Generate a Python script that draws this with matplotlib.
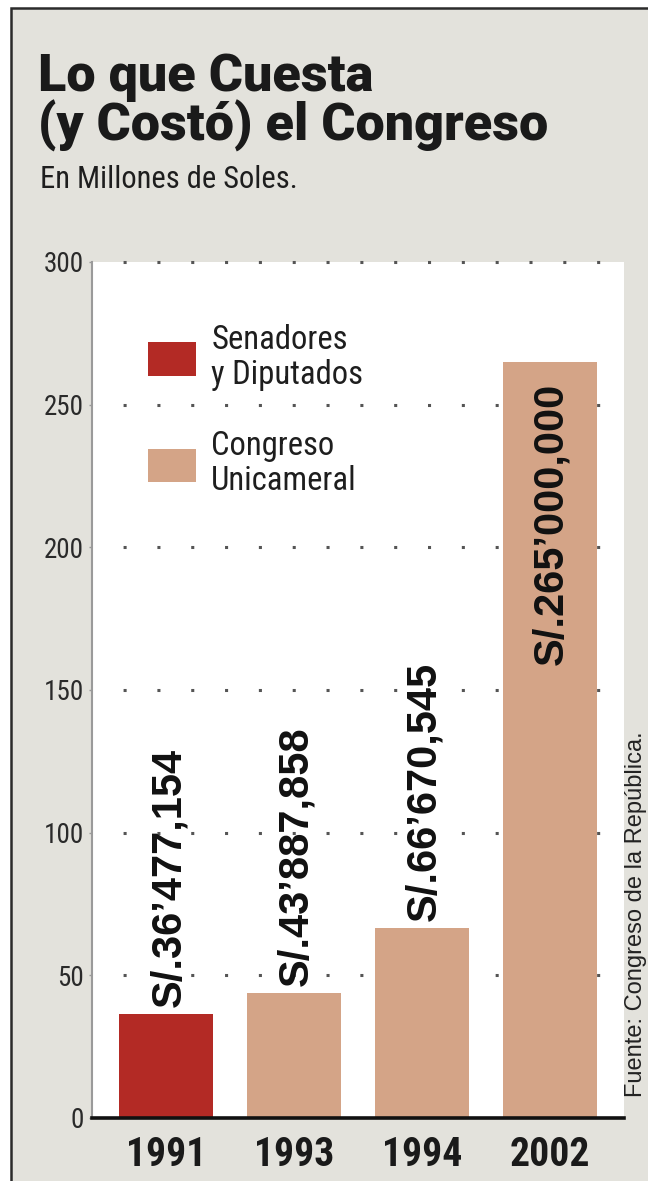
import matplotlib
matplotlib.use("Agg")
import matplotlib.pyplot as plt
from matplotlib import font_manager
from matplotlib.patches import Patch, Rectangle

# ── Data ────────────────────────────────────────────────────────────────────
years = ["1991", "1993", "1994", "2002"]
costs = [36.477154, 43.887858, 66.670545, 265.0]        # millones de soles
cost_labels = ["S/.36’477,154", "S/.43’887,858", "S/.66’670,545", "S/.265’000,000"]
chamber = ["bicameral", "unicameral", "unicameral", "unicameral"]
legend_labels = {"bicameral": "Senadores\ny Diputados", "unicameral": "Congreso\nUnicameral"}
yticks = [0, 50, 100, 150, 200, 250, 300]

colors = {"bicameral": "#b32a25", "unicameral": "#d4a487"}


def pick(names, weight=None):
    have = {(f.name, f.weight) for f in font_manager.fontManager.ttflist}
    fams = {f.name for f in font_manager.fontManager.ttflist}
    for n in names:
        if weight is None and n in fams:
            return n
        if weight is not None and (n, weight) in have:
            return n
    return "Liberation Sans"


heavy = pick(["Roboto", "Lato", "Inter"], weight=900)
narrow = pick(["Liberation Sans Narrow", "Roboto Condensed"])
plain = "Liberation Sans"

W, H = 648, 1181
fig = plt.figure(figsize=(W / 100, H / 100), dpi=100, facecolor="white")

# panel background + frame (top and left edges only visible)
fig.patches.append(Rectangle((11 / W, -0.05), 1.1, 1 - 8 / H + 0.05, transform=fig.transFigure,
                             facecolor="#e3e2dc", edgecolor="#2b2b2b", lw=1.8, zorder=-5))

ax = fig.add_axes([92 / W, 1 - 1118 / H, 532 / W, 856 / H])
ax.set_zorder(2)
ax.set_facecolor("white")

x = range(len(years))
bars = ax.bar(x, costs, width=0.73, color=[colors[c] for c in chamber], zorder=2)

ax.set_xlim(-0.58, 3.58)
ax.set_ylim(0, 300)
ax.set_yticks(yticks)
ax.set_xticks(list(x))
ax.set_xticklabels(years, fontfamily=narrow, fontweight="bold", fontsize=28.5, color="#1a1a1a")
ax.tick_params(axis="x", length=0, pad=13)
ax.tick_params(axis="y", length=2, width=1, color="#999999", pad=4,
               labelsize=19.5, labelcolor="#2a2a2a")
for t in ax.get_yticklabels():
    t.set_fontfamily(narrow)

for s in ["top", "right"]:
    ax.spines[s].set_visible(False)
ax.spines["left"].set_color("#9a9a9a")
ax.spines["left"].set_linewidth(1.5)
ax.spines["bottom"].set_color("#111111")
ax.spines["bottom"].set_linewidth(2.6)
ax.spines["bottom"].set_zorder(3)

# dotted guide lines
for v in yticks[1:]:
    ax.axhline(v, color="#555555", lw=2.2, linestyle=(0.9, (1, 10.07)), zorder=1, clip_on=False)

# value labels, rotated
for b, lab, v in zip(bars, cost_labels, costs):
    cx = b.get_x() + b.get_width() / 2
    if v > 200:
        ax.annotate(lab, (cx, v), xytext=(1, -15), textcoords="offset points", rotation=90,
                    ha="center", va="top", fontsize=30, fontweight="bold",
                    fontfamily=plain, color="#111111", zorder=4)
    else:
        ax.annotate(lab, (cx, v), xytext=(2, 5), textcoords="offset points", rotation=90,
                    ha="center", va="bottom", fontsize=30, fontweight="bold",
                    fontfamily=plain, color="#111111", zorder=4)

# legend
handles = [Patch(facecolor=colors[k]) for k in legend_labels]
leg = ax.legend(handles, list(legend_labels.values()), loc="upper left",
                bbox_to_anchor=(0.105, 0.928), frameon=False, borderpad=0, borderaxespad=0,
                handlelength=1.47, handleheight=1.22, handletextpad=0.47, labelspacing=1.22,
                prop={"family": narrow, "size": 23.5})
for t in leg.get_texts():
    t.set_color("#1e1e1e")
    t.set_linespacing(1.12)

# titles
fig.text(38 / W, 1 - 91 / H, "Lo que Cuesta", fontsize=37.5, fontweight=900, fontfamily=heavy,
         color="#1a1a1a", ha="left", va="baseline")
fig.text(38 / W, 1 - 141 / H, "(y Costó) el Congreso", fontsize=37.5, fontweight=900,
         fontfamily=heavy, color="#1a1a1a", ha="left", va="baseline")
fig.text(40 / W, 1 - 188 / H, "En Millones de Soles.", fontsize=22, fontfamily=narrow,
         color="#1e1e1e", ha="left", va="baseline")

fig.text(636 / W, 1 - 1097 / H, "Fuente: Congreso de la República.", rotation=90,
         fontsize=17, fontfamily=plain, color="#222222", ha="center", va="bottom")

fig.savefig("out.png", dpi=100, facecolor=fig.get_facecolor())
